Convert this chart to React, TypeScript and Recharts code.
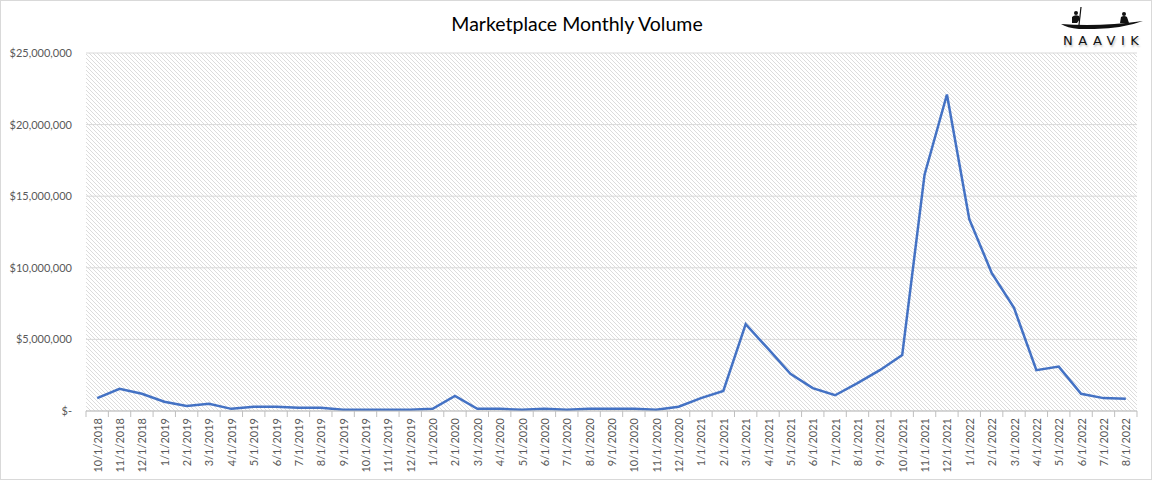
import React from 'react';
import { LineChart, Line, XAxis, YAxis, CartesianGrid } from 'recharts';

const months: string[] = [
  '10/1/2018', '11/1/2018', '12/1/2018',
  '1/1/2019', '2/1/2019', '3/1/2019', '4/1/2019', '5/1/2019', '6/1/2019',
  '7/1/2019', '8/1/2019', '9/1/2019', '10/1/2019', '11/1/2019', '12/1/2019',
  '1/1/2020', '2/1/2020', '3/1/2020', '4/1/2020', '5/1/2020', '6/1/2020',
  '7/1/2020', '8/1/2020', '9/1/2020', '10/1/2020', '11/1/2020', '12/1/2020',
  '1/1/2021', '2/1/2021', '3/1/2021', '4/1/2021', '5/1/2021', '6/1/2021',
  '7/1/2021', '8/1/2021', '9/1/2021', '10/1/2021', '11/1/2021', '12/1/2021',
  '1/1/2022', '2/1/2022', '3/1/2022', '4/1/2022', '5/1/2022', '6/1/2022',
  '7/1/2022', '8/1/2022',
];

const volume: number[] = [
  900000, 1550000, 1200000,
  650000, 350000, 500000, 150000, 300000, 300000,
  220000, 220000, 80000, 80000, 80000, 80000,
  150000, 1050000, 150000, 150000, 80000, 150000,
  80000, 150000, 150000, 150000, 80000, 300000,
  900000, 1400000, 6070000, 4350000, 2600000, 1600000,
  1100000, 1950000, 2850000, 3900000, 16500000, 22100000,
  13400000, 9650000, 7200000, 2850000, 3100000, 1200000,
  900000, 850000,
];

const yTicks: number[] = [0, 5000000, 10000000, 15000000, 20000000, 25000000];

const data = months.map((m, i) => ({ month: m, volume: volume[i] }));

const fmtY = (v: number) => (v === 0 ? '$-' : '$' + v.toLocaleString('en-US'));

const PLOT_W = 1051;
const BAND = PLOT_W / months.length;
const FONT = 'Lato, "Open Sans", sans-serif';

const MonthTick = (props: any) => {
  const { x, y, payload, index } = props;
  const last = index === months.length - 1;
  return (
    <g transform={`translate(${x},${y})`}>
      <line x1={-BAND / 2} y1={0} x2={-BAND / 2} y2={6} stroke="#bfbfbf" />
      {last && <line x1={BAND / 2} y1={0} x2={BAND / 2} y2={6} stroke="#bfbfbf" />}
      <text
        transform="rotate(-90)"
        x={-7}
        y={0}
        textAnchor="end"
        dominantBaseline="central"
        fontSize={11}
        fill="#595959"
        fontFamily={FONT}
      >
        {payload.value}
      </text>
    </g>
  );
};

const Logo = () => (
  <div style={{ position: 'absolute', left: 1058, top: 4, width: 86, height: 44 }}>
    <svg width={86} height={24} style={{ position: 'absolute', left: 0, top: 0 }}>
      <path d="M2,19 Q40,22 84,16 Q60,25 20,24 Q8,23 2,19 Z" fill="#111" />
      <line x1={20} y1={20} x2={22} y2={2} stroke="#111" strokeWidth={1.2} />
      <circle cx={17} cy={8} r={2} fill="#111" />
      <path d="M13,18 L13,12 Q16,9 20,11 L21,14 L18,18 Z" fill="#111" />
      <circle cx={65} cy={9} r={2} fill="#111" />
      <path d="M61,18 L62,12 Q65,10 68,12 L70,18 Z" fill="#111" />
    </svg>
    <div
      style={{
        position: 'absolute',
        left: 4,
        top: 28,
        fontFamily: '"DejaVu Sans", sans-serif',
        fontSize: 13,
        letterSpacing: 5.5,
        color: '#111',
        textShadow: '1px 2px 2px rgba(0,0,0,0.25)',
      }}
    >
      NAAVIK
    </div>
  </div>
);

export default function App() {
  return (
    <div
      style={{
        position: 'absolute',
        left: 0,
        top: 0,
        width: 1152,
        height: 480,
        background: '#fff',
        border: '1px solid #d9d9d9',
        boxSizing: 'border-box',
      }}
    >
      <svg width={0} height={0} style={{ position: 'absolute' }}>
        <defs>
          <pattern id="hatch" patternUnits="userSpaceOnUse" width={4} height={4}>
            <rect x={0} y={0} width={1} height={1} fill="#dcdcdc" />
            <rect x={1} y={1} width={1} height={1} fill="#dcdcdc" />
            <rect x={2} y={2} width={1} height={1} fill="#dcdcdc" />
            <rect x={3} y={3} width={1} height={1} fill="#dcdcdc" />
          </pattern>
        </defs>
      </svg>
      <div
        style={{
          position: 'absolute',
          left: 0,
          width: 1152,
          top: 11,
          textAlign: 'center',
          fontFamily: FONT,
          fontSize: 19.5,
          color: '#000',
        }}
      >
        Marketplace Monthly Volume
      </div>
      <Logo />
      <div style={{ position: 'absolute', left: -1, top: -1 }}>
        <LineChart
          width={1152}
          height={480}
          data={data}
          margin={{ top: 53, right: 15, bottom: 0, left: 0 }}
        >
          <CartesianGrid vertical={false} stroke="#d9d9d9" fill="url(#hatch)" fillOpacity={1} />
          <XAxis
            dataKey="month"
            interval={0}
            height={69}
            padding={{ left: BAND / 2, right: BAND / 2 }}
            tick={<MonthTick />}
            tickLine={false}
            tickSize={0}
            tickMargin={0}
            axisLine={{ stroke: '#bfbfbf' }}
          />
          <YAxis
            width={86}
            domain={[0, 25000000]}
            ticks={yTicks}
            tickFormatter={fmtY}
            axisLine={false}
            tickLine={false}
            tickSize={0}
            tickMargin={14}
            tick={{ fontSize: 11, fill: '#595959', fontFamily: FONT }}
          />
          <Line
            type="linear"
            dataKey="volume"
            stroke="#4472C4"
            strokeWidth={2.5}
            dot={false}
            activeDot={false}
            isAnimationActive={false}
          />
        </LineChart>
      </div>
    </div>
  );
}
